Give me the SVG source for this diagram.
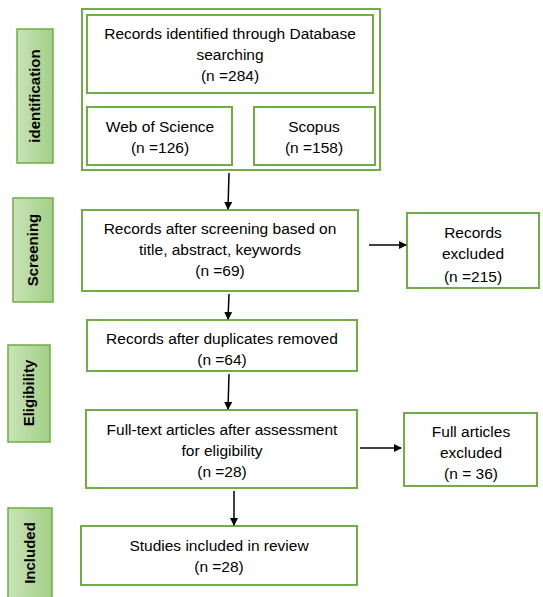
<svg xmlns="http://www.w3.org/2000/svg" width="543" height="597" viewBox="0 0 543 597">
<defs>
<linearGradient id="lg" x1="0" y1="0" x2="1" y2="0">
<stop offset="0" stop-color="#C9E3B8"/>
<stop offset="1" stop-color="#A3CF86"/>
</linearGradient>
<marker id="ah" markerWidth="8" markerHeight="8" refX="7" refY="4" orient="auto" markerUnits="userSpaceOnUse">
<path d="M0,0 L8,4 L0,8 z" fill="#000"/>
</marker>
<style>
.box{fill:#fff;stroke:#70AD47;stroke-width:2}
.side{fill:url(#lg);stroke:#70AD47;stroke-width:1.5}
.t{font-family:"Liberation Sans",Arial,sans-serif;font-size:15.5px;fill:#000;text-anchor:middle}
.s{font-family:"Liberation Sans",Arial,sans-serif;font-size:15px;font-weight:bold;fill:#000;text-anchor:middle}
.c{stroke:#000;stroke-width:1.5;fill:none;marker-end:url(#ah)}
</style>
</defs>
<rect width="543" height="597" fill="#fff"/>

<g id="side-identification"><rect class="side" x="17" y="29" width="36" height="134"/><text class="s" transform="translate(40,96) rotate(-90)">identification</text></g>
<g id="side-screening"><rect class="side" x="13" y="198" width="40" height="104"/><text class="s" transform="translate(38,250) rotate(-90)">Screening</text></g>
<g id="side-eligibility"><rect class="side" x="8" y="345" width="42" height="97"/><text class="s" transform="translate(34,393) rotate(-90)">Eligibility</text></g>
<g id="side-included"><rect class="side" x="8" y="508" width="44" height="95"/><text class="s" transform="translate(35,553) rotate(-90)">Included</text></g>

<g id="identification">
<rect class="box" x="82" y="9" width="298" height="161"/>
</g>
<g id="database">
<rect class="box" x="87" y="15" width="286" height="78"/>
<text class="t" x="230" y="39">Records identified through Database</text>
<text class="t" x="230" y="60">searching</text>
<text class="t" x="230" y="81">(n =284)</text>
</g>
<g id="wos">
<rect class="box" x="87" y="107" width="145" height="58"/>
<text class="t" x="160" y="132">Web of Science</text>
<text class="t" x="160" y="153">(n =126)</text>
</g>
<g id="scopus">
<rect class="box" x="254" y="107" width="121" height="58"/>
<text class="t" x="314" y="132">Scopus</text>
<text class="t" x="314" y="153">(n =158)</text>
</g>
<g id="screening">
<rect class="box" x="82" y="210" width="276" height="81"/>
<text class="t" x="220" y="234">Records after screening based on</text>
<text class="t" x="220" y="255">title, abstract, keywords</text>
<text class="t" x="220" y="276">(n =69)</text>
</g>
<g id="excluded1">
<rect class="box" x="407" y="213" width="132" height="75"/>
<text class="t" x="473" y="238">Records</text>
<text class="t" x="473" y="259">excluded</text>
<text class="t" x="473" y="282">(n =215)</text>
</g>
<g id="duplicates">
<rect class="box" x="87" y="320" width="270" height="51"/>
<text class="t" x="222" y="344">Records after duplicates removed</text>
<text class="t" x="222" y="365">(n =64)</text>
</g>
<g id="fulltext">
<rect class="box" x="86" y="410" width="271" height="78"/>
<text class="t" x="222" y="435">Full-text articles after assessment</text>
<text class="t" x="222" y="456">for eligibility</text>
<text class="t" x="222" y="477">(n =28)</text>
</g>
<g id="excluded2">
<rect class="box" x="404" y="413" width="133" height="73"/>
<text class="t" x="471" y="437">Full articles</text>
<text class="t" x="471" y="458">excluded</text>
<text class="t" x="471" y="479">(n = 36)</text>
</g>
<g id="included">
<rect class="box" x="81" y="526" width="276" height="59"/>
<text class="t" x="219" y="551">Studies included in review</text>
<text class="t" x="219" y="572">(n =28)</text>
</g>

<g id="connectors">
<line class="c" x1="229" y1="173" x2="228" y2="209"/>
<line class="c" x1="229" y1="294" x2="228" y2="319"/>
<line class="c" x1="229" y1="374" x2="228" y2="409"/>
<line class="c" x1="234" y1="491" x2="234" y2="525"/>
<line class="c" x1="369" y1="245" x2="406" y2="245"/>
<line class="c" x1="360" y1="448" x2="401" y2="448"/>
</g>
</svg>
